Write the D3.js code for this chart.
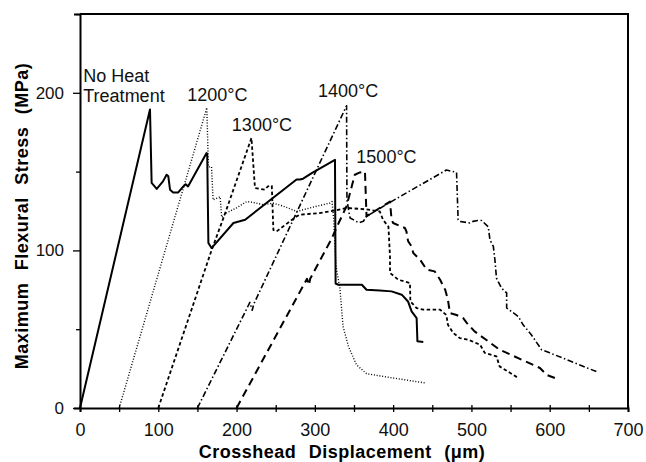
<!DOCTYPE html>
<html>
<head>
<meta charset="utf-8">
<script src="https://cdn.jsdelivr.net/npm/d3@7"></script>
<style>
	body { margin: 0; background: white; }
	text { font-family: "Liberation Sans", Arial, sans-serif; }
</style>
</head>
<body>
<div id="chart"></div>
<script>

// displacement (um), stress (MPa) pairs
var noHeat = [[0,0],[89.4,189.4],[91.5,142.8],[98,139],[106,143.8],[110.6,148],[112.8,147],[115,138.5],[119,136.8],[125.5,136.8],[132,140.6],[135,142],[138,140.6],[161.7,161.8],[162.5,161],[164,104.7],[168,101.5],[196,117.4],[211,119.5],[276.6,145],[281,145],[285,145.5],[296,149],[325.7,157.5],[326.5,79],[330,78.2],[360,78.2],[366,75],[383,74.6],[398,74],[411,71.9],[419,67.6],[423.6,61.3],[430,57],[431,42.3],[438.5,41.9]];
var t1200 = [[50,0],[162,190.5],[164,153],[168,153],[170,132],[179,134],[181,121],[187,123.7],[200,127],[213,131],[221,130.5],[234,129],[247,130],[260,128],[277,124.7],[294,127],[319,130],[322,131],[324,120],[327,90],[330,81.4],[332,76],[336,51.8],[343,39],[353,27.5],[366,21.8],[391.5,19.7],[440.6,15.9]];
var t1300 = [[100,0],[168,100],[185,123],[219,171.3],[223.5,139.6],[236,138.5],[240,140.6],[245,141],[247,113],[251,112],[276.6,121.6],[281,122.7],[306,123.7],[319,124.7],[332,126],[340.5,127],[366,126],[383,124.7],[387,119.5],[394,115],[396,96],[396,85.7],[406.5,81.4],[421.5,79.3],[422,67.6],[430,63.4],[438.5,62.4],[460,62.4],[468,59],[470,52.8],[476.8,47.6],[485,44.4],[496,43.3],[511,40.2],[517,35],[532,32.7],[536,26.4],[560,19]];
var t1400 = [[150,0],[217,67],[220,62],[222,66],[340.5,191.8],[341,132],[343,126],[345,120.6],[349,119.5],[356,117.5],[362,118.5],[366,121.6],[396,130.5],[468,151],[481,149.5],[483,119.5],[485,118.4],[498,117.4],[502,118.4],[508,119],[513,119],[521.5,115],[523.6,106.8],[528,102.5],[530,94],[532,82.4],[538.5,76],[545,73],[545,63.5],[560,58],[566,52.8],[576.5,46.5],[589.6,37],[600,35],[660,23]];
var t1500 = [[200,0],[290,82],[292.5,78],[294,82],[321,107],[331,118],[340.5,128],[351,148],[357.6,149.5],[364,150],[366,121.6],[372.5,123.7],[396,131],[398,119.5],[400,117.4],[415,114.2],[417,112],[419,106],[423.6,102.5],[425.7,98.3],[434.6,94],[442.7,87.8],[453,86.7],[460,81.4],[466.5,75],[470,68.7],[472.5,60.3],[481,59],[489.5,57],[494,54],[504,48.6],[536,37],[587.5,25.4],[596,21],[606.6,19]];

var seriesList = [noHeat, t1200, t1300, t1400, t1500];
var seriesNames = [["No Heat", "Treatment"], ["1200°C"], ["1300°C"], ["1400°C"], ["1500°C"]];
// where each name sits, in data units (left edge, baseline)
var nameAnchors = [[4.2, 207], [137, 195], [194, 175.5], [304, 197.5], [353, 155.5]];

var xTicks = [0, 50, 100, 150, 200, 250, 300, 350, 400, 450, 500, 550, 600, 650, 700];
var yTicks = [0, 50, 100, 150, 200, 250];

function FlexureChart(config){
	var svg = d3.select('#chart').append('svg')
		.attr('width', config.width)
		.attr('height', config.height);

	var m = config.margin;
	var x = d3.scaleLinear().domain([0, 700]).range([m.left, config.width - m.right]);
	var y = d3.scaleLinear().domain([0, 250]).range([config.height - m.bottom, m.top]);

	// x axis
	var xAxis = svg.append("g")
		.attr("transform", "translate(0," + y(0) + ")")
		.call(d3.axisBottom(x)
			.tickValues(xTicks)
			.tickSize(4)
			.tickPadding(8)
			.tickFormat(function(d) { return d % 100 == 0 ? d : ""; }));
	xAxis.selectAll(".tick line").attr("y1", -3).style("stroke-width", "1.3px");
	xAxis.selectAll("text").style("font-size", "18px").attr("dy", "0.9em").attr("fill", "#111");
	xAxis.select(".domain").style("stroke-width", "2px");

	// y axis
	var yAxis = svg.append("g")
		.attr("transform", "translate(" + x(0) + ",0)")
		.call(d3.axisLeft(y)
			.tickValues(yTicks)
			.tickSize(6)
			.tickPadding(8)
			.tickFormat(function(d) { return d % 100 == 0 ? d : ""; }));
	yAxis.selectAll(".tick line")
		.attr("x2", function(d) { return d % 100 == 0 ? -7 : -4; })
		.style("stroke-width", "1.3px");
	yAxis.selectAll("text").style("font-size", "17px").attr("x", -16).attr("fill", "#111");
	yAxis.select(".domain").style("stroke-width", "2px");

	// frame top + right
	svg.append("path")
		.attr("d", "M" + x(0) + "," + y(250) + "H" + x(700) + "V" + y(0))
		.attr("fill", "none")
		.attr("stroke", "black")
		.style("stroke-width", "2px");

	var line = d3.line()
		.x(function(d) { return x(d[0]); })
		.y(function(d) { return y(d[1]); });

	seriesList.forEach(function(s, i){
		svg.append("path")
			.datum(s)
			.attr("d", line)
			.attr("fill", "none")
			.attr("stroke", "black")
			.attr("stroke-linejoin", "round")
			.style("stroke-width", config.lineWidth[i])
			.style("stroke-dasharray", config.dash[i]);
	});

	seriesNames.forEach(function(lines, i){
		var t = svg.append("text")
			.attr("x", x(nameAnchors[i][0]))
			.attr("y", y(nameAnchors[i][1]))
			.style("font-size", "18px")
			.attr("fill", "#111");
		lines.forEach(function(l, j){
			t.append("tspan")
				.attr("x", x(nameAnchors[i][0]))
				.attr("dy", j == 0 ? 0 : "1.1em")
				.text(l);
		});
	});

	// axis titles
	svg.append("text")
		.attr("x", 342)
		.attr("y", 458)
		.style("text-anchor", "middle")
		.style("font-size", "18px")
		.style("font-weight", "bold")
		.style("letter-spacing", "0.5px")
		.style("word-spacing", "7px")
		.text("Crosshead Displacement (μm)");

	svg.append("text")
		.attr("transform", "translate(28,216) rotate(-90)")
		.style("text-anchor", "middle")
		.style("font-size", "18px")
		.style("font-weight", "bold")
		.style("letter-spacing", "0.5px")
		.style("word-spacing", "7px")
		.text("Maximum Flexural Stress (MPa)");
}

FlexureChart({
	width     : 646,
	height    : 462,
	margin    : {top: 14, right: 18, bottom: 54, left: 80},
	lineWidth : ["2px", "1.4px", "1.8px", "1.6px", "2px"],
	dash      : ["none", "1,1.8", "3.5,2.5", "6,2.5,1.5,2.5", "8,5"]
});
</script>
</body>
</html>
